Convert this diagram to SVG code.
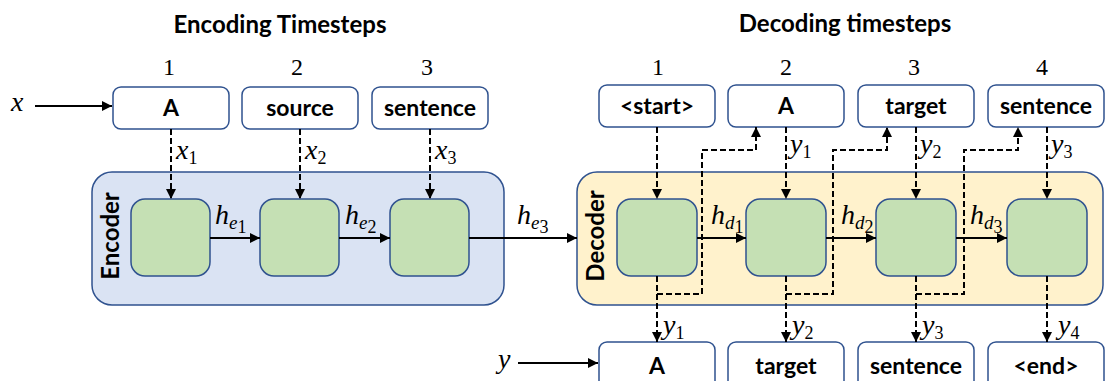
<svg xmlns="http://www.w3.org/2000/svg" width="1105" height="381" viewBox="0 0 1105 381">
  <style>
    .title { font-family: Lato, "Open Sans", sans-serif; font-weight: bold; font-size: 24px; fill: #000; text-anchor: middle; }
    .step { font-family: "Liberation Serif", serif; font-size: 24px; fill: #000; text-anchor: middle; }
    .word { font-family: Lato, "Open Sans", sans-serif; font-weight: bold; font-size: 23px; fill: #000; text-anchor: middle; }
    .side { font-family: Lato, "Open Sans", sans-serif; font-weight: bold; font-size: 24px; fill: #000; text-anchor: middle; }
    .math { font-family: "Liberation Serif", serif; font-style: italic; font-size: 28px; fill: #000; }
    .sub { font-style: normal; font-size: 18px; }
    .subi { font-size: 19px; }
    .token { fill: #fff; stroke: #2f528f; stroke-width: 1.5; }
    .cell { fill: #c5e0b4; stroke: #2f528f; stroke-width: 1.5; }
    .enc { fill: #dae3f3; stroke: #2f528f; stroke-width: 1.5; }
    .dec { fill: #fff2cc; stroke: #2f528f; stroke-width: 1.5; }
    .solid { fill: none; stroke: #000; stroke-width: 2; }
    .dash { fill: none; stroke: #000; stroke-width: 2; stroke-dasharray: 6 3; }
  </style>
  <defs>
    <marker id="arrow" viewBox="0 0 10 10" refX="10" refY="5" markerWidth="5" markerHeight="5" markerUnits="strokeWidth" orient="auto">
      <path d="M0,0 L10,5 L0,10 z" fill="#000"/>
    </marker>
  </defs>

  <!-- headings -->
  <text class="title" x="280" y="33">Encoding Timesteps</text>
  <text class="title" x="845" y="32">Decoding timesteps</text>
  <g id="encoder-steps">
    <text class="step" x="169" y="75">1</text>
    <text class="step" x="297" y="75">2</text>
    <text class="step" x="427" y="75">3</text>
  </g>
  <g id="decoder-steps">
    <text class="step" x="658" y="75">1</text>
    <text class="step" x="786" y="75">2</text>
    <text class="step" x="914" y="75">3</text>
    <text class="step" x="1042" y="75">4</text>
  </g>

  <!-- panels -->
  <g id="encoder">
    <rect class="enc" x="92" y="172" width="412" height="133" rx="20"/>
    <text class="side" transform="translate(119,236) rotate(-90)">Encoder</text>
  </g>
  <g id="decoder">
    <rect class="dec" x="577" y="172" width="526" height="133" rx="20"/>
    <text class="side" transform="translate(604,236) rotate(-90)">Decoder</text>
  </g>

  <!-- encoder input tokens -->
  <g id="enc-in-1"><rect class="token" x="113" y="87" width="116" height="42" rx="8"/><text class="word" x="171" y="116">A</text></g>
  <g id="enc-in-2"><rect class="token" x="242" y="87" width="116" height="42" rx="8"/><text class="word" x="300" y="116">source</text></g>
  <g id="enc-in-3"><rect class="token" x="372" y="87" width="116" height="42" rx="8"/><text class="word" x="430" y="116">sentence</text></g>

  <!-- decoder input tokens -->
  <g id="dec-in-1"><rect class="token" x="599" y="85" width="116" height="42" rx="8"/><text class="word" x="657" y="114">&lt;start&gt;</text></g>
  <g id="dec-in-2"><rect class="token" x="728" y="85" width="116" height="42" rx="8"/><text class="word" x="786" y="114">A</text></g>
  <g id="dec-in-3"><rect class="token" x="858" y="85" width="116" height="42" rx="8"/><text class="word" x="916" y="114">target</text></g>
  <g id="dec-in-4"><rect class="token" x="988" y="85" width="116" height="42" rx="8"/><text class="word" x="1046" y="114">sentence</text></g>

  <!-- decoder output tokens -->
  <g id="dec-out-1"><rect class="token" x="599" y="342" width="116" height="50" rx="8"/><text class="word" x="657" y="374">A</text></g>
  <g id="dec-out-2"><rect class="token" x="728" y="342" width="116" height="50" rx="8"/><text class="word" x="786" y="374">target</text></g>
  <g id="dec-out-3"><rect class="token" x="858" y="342" width="116" height="50" rx="8"/><text class="word" x="916" y="374">sentence</text></g>
  <g id="dec-out-4"><rect class="token" x="988" y="342" width="116" height="50" rx="8"/><text class="word" x="1046" y="374">&lt;end&gt;</text></g>

  <!-- recurrent cells -->
  <g id="enc-cell-1"><rect class="cell" x="131" y="199" width="79" height="77" rx="14"/></g>
  <g id="enc-cell-2"><rect class="cell" x="260" y="199" width="79" height="77" rx="14"/></g>
  <g id="enc-cell-3"><rect class="cell" x="390" y="199" width="79" height="77" rx="14"/></g>
  <g id="dec-cell-1"><rect class="cell" x="617" y="199" width="80" height="77" rx="14"/></g>
  <g id="dec-cell-2"><rect class="cell" x="746" y="199" width="80" height="77" rx="14"/></g>
  <g id="dec-cell-3"><rect class="cell" x="876" y="199" width="80" height="77" rx="14"/></g>
  <g id="dec-cell-4"><rect class="cell" x="1007" y="199" width="80" height="77" rx="14"/></g>

  <!-- connectors -->
  <g id="connectors">
    <!-- sequence inputs -->
    <line class="solid" x1="35" y1="106" x2="112" y2="106" marker-end="url(#arrow)"/>
    <line class="solid" x1="518" y1="363" x2="598" y2="363" marker-end="url(#arrow)"/>

    <!-- encoder token embeddings -->
    <line class="dash" x1="171" y1="129" x2="171" y2="199" marker-end="url(#arrow)"/>
    <line class="dash" x1="300" y1="129" x2="300" y2="199" marker-end="url(#arrow)"/>
    <line class="dash" x1="430" y1="129" x2="430" y2="199" marker-end="url(#arrow)"/>

    <!-- encoder hidden states -->
    <line class="solid" x1="210" y1="238" x2="260" y2="238" marker-end="url(#arrow)"/>
    <line class="solid" x1="339" y1="238" x2="390" y2="238" marker-end="url(#arrow)"/>
    <line class="solid" x1="469" y1="238" x2="577" y2="238" marker-end="url(#arrow)"/>

    <!-- decoder hidden states -->
    <line class="solid" x1="697" y1="238" x2="746" y2="238" marker-end="url(#arrow)"/>
    <line class="solid" x1="826" y1="238" x2="876" y2="238" marker-end="url(#arrow)"/>
    <line class="solid" x1="956" y1="238" x2="1007" y2="238" marker-end="url(#arrow)"/>

    <!-- decoder inputs -->
    <line class="dash" x1="657" y1="127" x2="657" y2="199" marker-end="url(#arrow)"/>
    <line class="dash" x1="786" y1="127" x2="786" y2="199" marker-end="url(#arrow)"/>
    <line class="dash" x1="916" y1="127" x2="916" y2="199" marker-end="url(#arrow)"/>
    <line class="dash" x1="1047" y1="127" x2="1047" y2="199" marker-end="url(#arrow)"/>

    <!-- decoder outputs -->
    <line class="dash" x1="657" y1="276" x2="657" y2="342" marker-end="url(#arrow)"/>
    <line class="dash" x1="786" y1="276" x2="786" y2="342" marker-end="url(#arrow)"/>
    <line class="dash" x1="916" y1="276" x2="916" y2="342" marker-end="url(#arrow)"/>
    <line class="dash" x1="1047" y1="276" x2="1047" y2="342" marker-end="url(#arrow)"/>

    <!-- outputs fed back as next inputs -->
    <polyline class="dash" points="657,294 702,294 702,150 756,150 756,127" marker-end="url(#arrow)"/>
    <polyline class="dash" points="786,294 833,294 833,150 887,150 887,127" marker-end="url(#arrow)"/>
    <polyline class="dash" points="916,294 964,294 964,150 1018,150 1018,127" marker-end="url(#arrow)"/>
  </g>

  <!-- symbols -->
  <g id="labels">
    <text class="math" x="11" y="111">x</text>
    <text class="math" x="498" y="368">y</text>

    <text class="math" x="176" y="159">x<tspan class="sub" dy="5">1</tspan></text>
    <text class="math" x="305" y="159">x<tspan class="sub" dy="5">2</tspan></text>
    <text class="math" x="435" y="159">x<tspan class="sub" dy="5">3</tspan></text>

    <text class="math" x="790" y="153">y<tspan class="sub" dy="5">1</tspan></text>
    <text class="math" x="920" y="153">y<tspan class="sub" dy="5">2</tspan></text>
    <text class="math" x="1051" y="153">y<tspan class="sub" dy="5">3</tspan></text>

    <text class="math" x="663" y="334">y<tspan class="sub" dy="5">1</tspan></text>
    <text class="math" x="792" y="334">y<tspan class="sub" dy="5">2</tspan></text>
    <text class="math" x="922" y="334">y<tspan class="sub" dy="5">3</tspan></text>
    <text class="math" x="1058" y="334">y<tspan class="sub" dy="5">4</tspan></text>

    <text class="math" x="215" y="224">h<tspan class="subi" dy="5">e</tspan><tspan class="sub" font-size="14" dy="4">1</tspan></text>
    <text class="math" x="345" y="224">h<tspan class="subi" dy="5">e</tspan><tspan class="sub" font-size="14" dy="4">2</tspan></text>
    <text class="math" x="517" y="224">h<tspan class="subi" dy="5">e</tspan><tspan class="sub" font-size="14" dy="4">3</tspan></text>

    <text class="math" x="711" y="224">h<tspan class="subi" dy="5">d</tspan><tspan class="sub" font-size="14" dy="4">1</tspan></text>
    <text class="math" x="841" y="224">h<tspan class="subi" dy="5">d</tspan><tspan class="sub" font-size="14" dy="4">2</tspan></text>
    <text class="math" x="970" y="224">h<tspan class="subi" dy="5">d</tspan><tspan class="sub" font-size="14" dy="4">3</tspan></text>
  </g>
</svg>
